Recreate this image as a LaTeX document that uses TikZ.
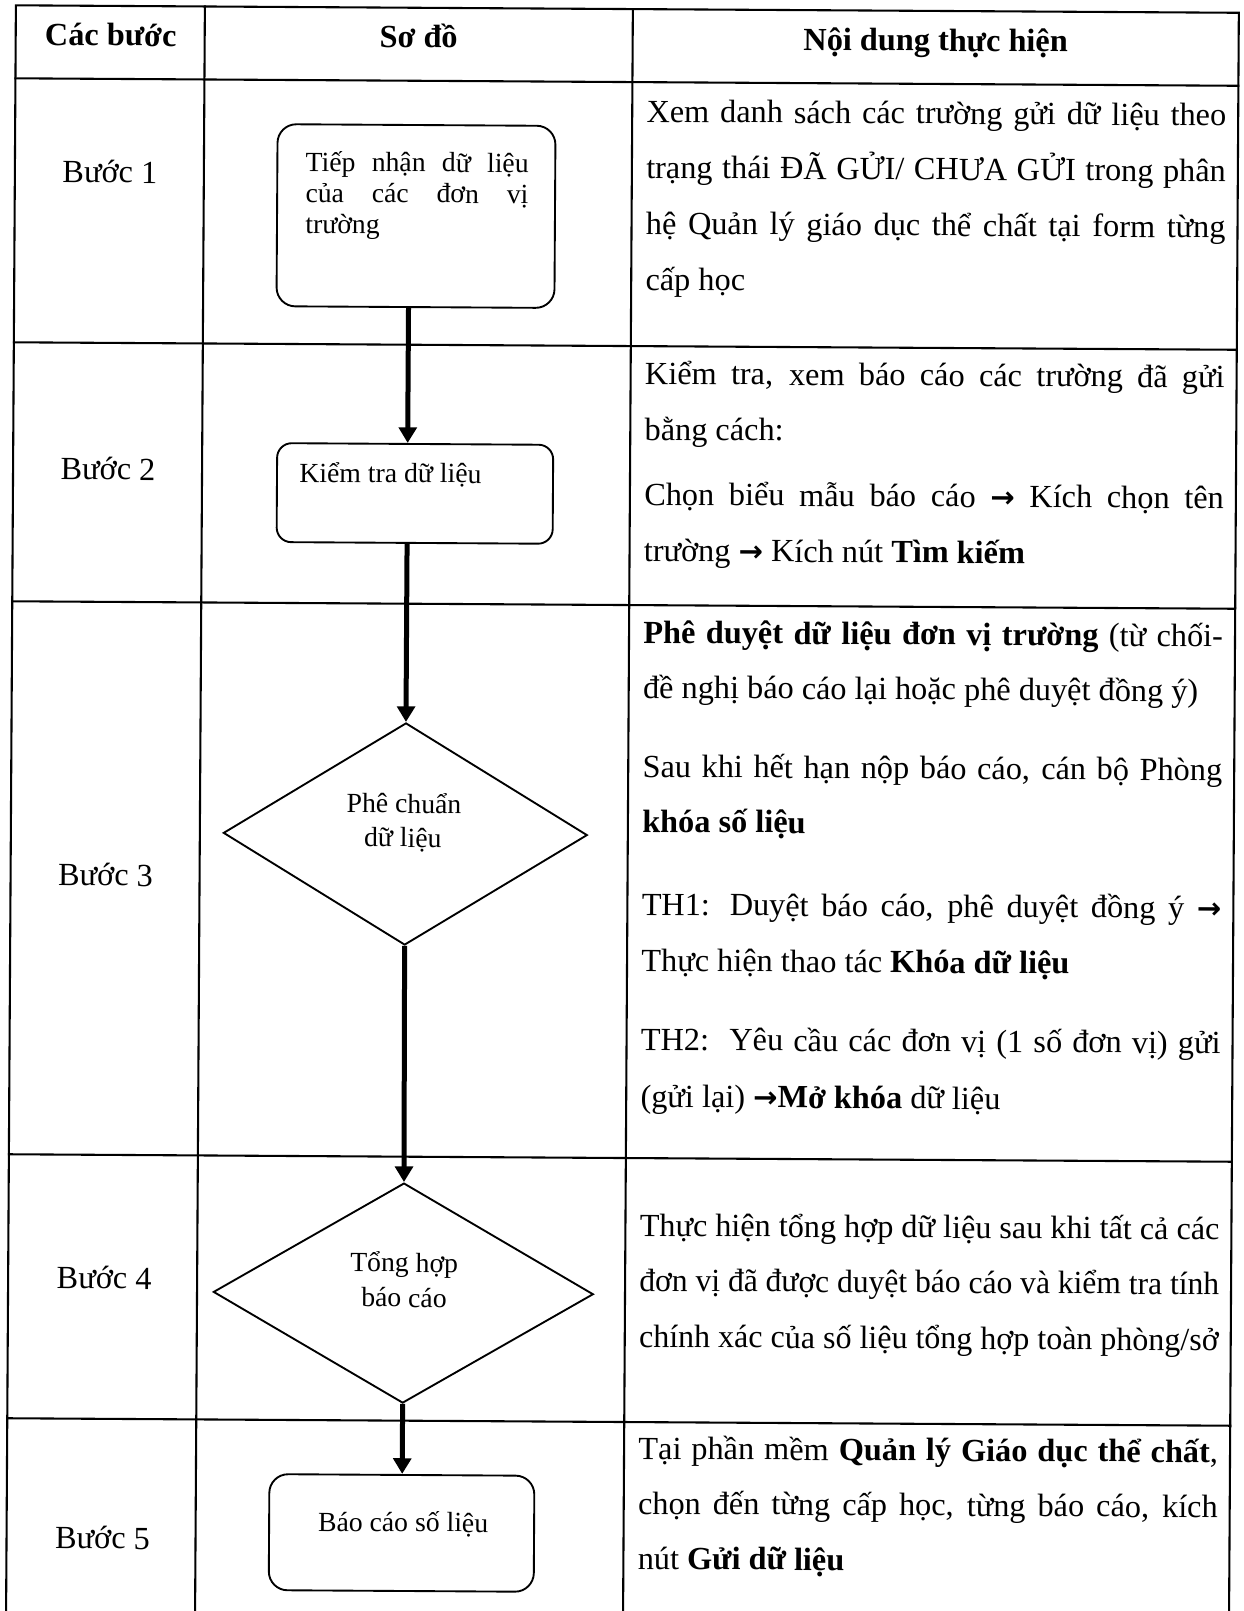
\documentclass[tikz,border=0pt]{standalone}
\usepackage{fontspec}
\setmainfont{Liberation Serif}
\newfontfamily\arrowfont{DejaVu Sans}
\usepackage{graphicx}
\usetikzlibrary{shapes.geometric,arrows.meta}
\newlength\tw \setlength\tw{278.2pt}
\newlength\natw
\newcommand\fitln[1]{\settowidth\natw{#1}\ifdim\natw>\tw\resizebox{\tw}{\height}{#1}\else\makebox[\tw][s]{#1}\fi}
\newcommand\bodyf{\fontsize{15.5pt}{18pt}\selectfont}
\newcommand\boxf{\fontsize{13.3pt}{16pt}\selectfont}
\newcommand\rar{{\arrowfont\bfseries\fontsize{14pt}{16pt}\selectfont →}}
\tikzset{
 grid/.style={line width=1pt, line cap=rect},
 proc/.style={draw, line width=0.9pt, rounded corners=9pt, inner sep=0pt},
 decis/.style={draw, diamond, line width=0.9pt, inner sep=0pt, aspect=1.64},
 arr/.style={line width=2.4pt, -{Triangle[length=7.5pt,width=8.5pt]}},
 txt/.style={inner sep=0pt, anchor=base west, font=\bodyf},
 ctr/.style={inner sep=0pt, anchor=base, font=\bodyf},
 hd/.style={inner sep=0pt, anchor=base, font=\bodyf\bfseries},
 btxt/.style={inner sep=0pt, anchor=base west, font=\boxf},
 bctr/.style={inner sep=0pt, anchor=base, font=\boxf},
}
\begin{document}
\begin{tikzpicture}[x=0.48pt,y=-0.48pt]
\fill[white] (0,0) rectangle (1243,1611);
\useasboundingbox (0,0) rectangle (1243,1611);
\clip (0,0) rectangle (1243,1611);
\begin{scope}[rotate around={-0.35:(621,805)}, transform shape]
% table grid
\draw[grid] (11,1660) -- (11,9) -- (1234,9) -- (1234,1660);
\draw[grid] (200,9) -- (200,1660);
\draw[grid] (628,9) -- (628,1660);
\foreach \yy in {82,346,605,1158,1422} \draw[grid] (11,\yy) -- (1234,\yy);

% header
\node[hd] (h1) at (106,49) {Các bước};
\node[hd] (h2) at (414,49) {Sơ đồ};
\node[hd] (h3) at (931,49) {Nội dung thực hiện};

% steps
\node[ctr] (s1) at (106,186) {Bước 1};
\node[ctr] (s2) at (106,483) {Bước 2};
\node[ctr] (s3) at (106,889) {Bước 3};
\node[ctr] (s4) at (107,1292) {Bước 4};
\node[ctr] (s5) at (107,1552) {Bước 5};

% flowchart shapes
\node[proc, minimum width=133.4pt, minimum height=87.4pt] (b1) at (412.4,217.3) {};
\node[proc, rounded corners=7pt, minimum width=132.5pt, minimum height=47.5pt] (b2) at (413,494.7) {};
\node[decis, minimum width=174.7pt, minimum height=106.6pt] (d1) at (405.5,835.3) {};
\node[decis, minimum width=182.4pt, minimum height=105.6pt] (d2) at (406.3,1294.4) {};
\node[proc, minimum width=127.2pt, minimum height=55.7pt] (b5) at (406,1534.3) {};

% flowchart texts
\node[btxt] (b1a) at (301.4,173) {\makebox[107pt][s]{Tiếp nhận dữ liệu}};
\node[btxt] (b1b) at (301.4,204) {\makebox[107pt][s]{của các đơn vị}};
\node[btxt] (b1c) at (301.4,235) {trường};
\node[btxt] (b2a) at (297,484) {Kiểm tra dữ liệu};
\node[bctr] (d1a) at (404,814.3) {Phê chuẩn};
\node[bctr] (d1b) at (403,848.3) {dữ liệu};
\node[bctr] (d2a) at (407,1273.3) {Tổng hợp};
\node[bctr] (d2b) at (407,1308.3) {báo cáo};
\node[bctr] (b5a) at (407.5,1533) {Báo cáo số liệu};

% connectors
\draw[arr] (b1.south -| d1.north) -- (b2.north -| d1.north);
\draw[arr] (b2.south -| d1.north) -- (d1.north);
\draw[arr] (d1.south) -- (d2.north);
\draw[arr] (d2.south) -- (b5.north -| d2.south);

% content column
\node[txt] (r1a) at (642,122) {\fitln{Xem danh sách các trường gửi dữ liệu theo}};
\node[txt] (r1b) at (642,178) {\fitln{trạng thái ĐÃ GỬI/ CHƯA GỬI trong phân}};
\node[txt] (r1c) at (642,234) {\fitln{hệ Quản lý giáo dục thể chất tại form từng}};
\node[txt] (r1d) at (642,290) {cấp học};

\node[txt] (r2a) at (642,384) {\fitln{Kiểm tra, xem báo cáo các trường đã gửi}};
\node[txt] (r2b) at (642,440) {bằng cách:};
\node[txt] (r2c) at (642,505) {\fitln{Chọn biểu mẫu báo cáo \rar{} Kích chọn tên}};
\node[txt] (r2d) at (642,561) {trường \rar{} Kích nút \textbf{Tìm kiếm}};

\node[txt] (r3a) at (642,643) {\fitln{\textbf{Phê duyệt dữ liệu đơn vị trường} (từ chối-}};
\node[txt] (r3b) at (642,698) {đề nghị báo cáo lại hoặc phê duyệt đồng ý)};
\node[txt] (r3c) at (642,777) {\fitln{Sau khi hết hạn nộp báo cáo, cán bộ Phòng}};
\node[txt] (r3d) at (642,832) {\textbf{khóa số liệu}};
\node[txt] (r3e) at (642,915) {\fitln{TH1: Duyệt báo cáo, phê duyệt đồng ý \rar}};
\node[txt] (r3f) at (642,971) {Thực hiện thao tác \textbf{Khóa dữ liệu}};
\node[txt] (r3g) at (642,1050) {\fitln{TH2:\ \ Yêu cầu các đơn vị (1 số đơn vị) gửi}};
\node[txt] (r3h) at (642,1107) {(gửi lại) \rar\textbf{Mở khóa} dữ liệu};

\node[txt] (r4a) at (642,1236) {\fitln{Thực hiện tổng hợp dữ liệu sau khi tất cả các}};
\node[txt] (r4b) at (642,1291) {\fitln{đơn vị đã được duyệt báo cáo và kiểm tra tính}};
\node[txt] (r4c) at (642,1347) {\fitln{chính xác của số liệu tổng hợp toàn phòng/sở}};

\node[txt] (r5a) at (642,1459) {\fitln{Tại phần mềm \textbf{Quản lý Giáo dục thể chất},}};
\node[txt] (r5b) at (642,1514) {\fitln{chọn đến từng cấp học, từng báo cáo, kích}};
\node[txt] (r5c) at (642,1569) {nút \textbf{Gửi dữ liệu}};
\end{scope}
\end{tikzpicture}
\end{document}
